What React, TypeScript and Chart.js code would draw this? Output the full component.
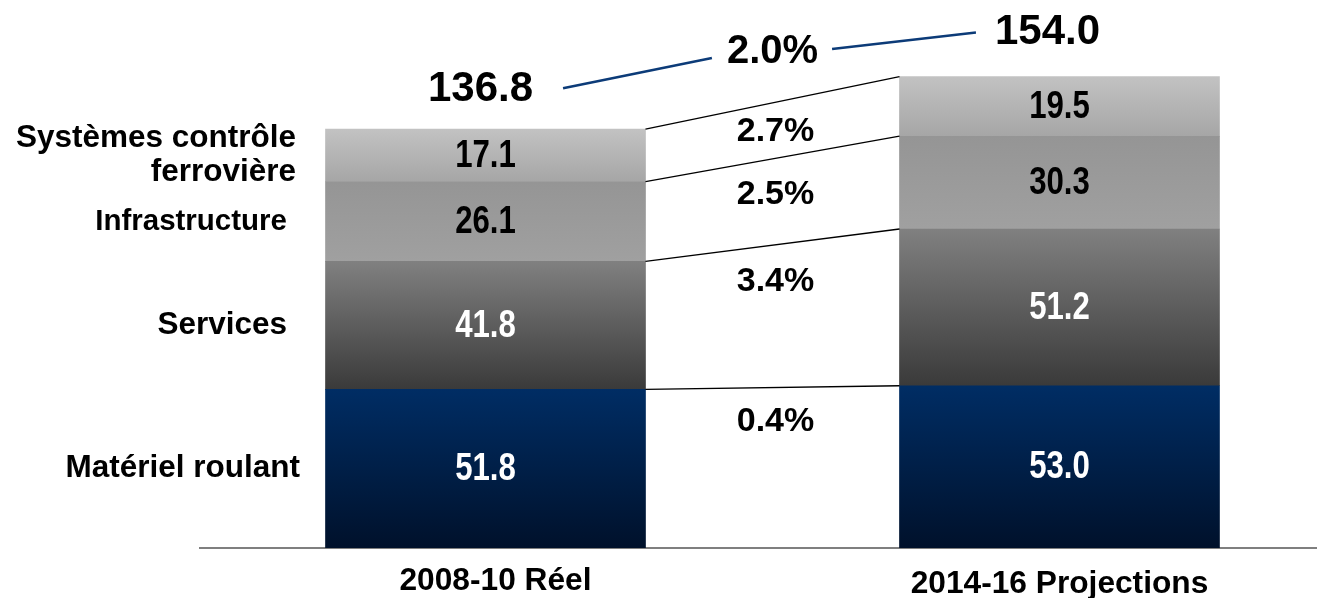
import React, { useEffect, useRef } from "react";
import { Chart, registerables } from "chart.js";

Chart.register(...registerables);

// ---- Data ----
const categories = ["2008-10 Réel", "2014-16 Projections"];
const seriesNames = ["Matériel roulant", "Services", "Infrastructure", "Systèmes contrôle\nferrovière"];
const materielRoulant = [51.8, 53.0];
const services = [41.8, 51.2];
const infrastructure = [26.1, 30.3];
const systemesControle = [17.1, 19.5];
const totals = [136.8, 154.0];
const segmentGrowth = ["0.4%", "3.4%", "2.5%", "2.7%"];
const totalGrowth = "2.0%";

const seriesValues = [materielRoulant, services, infrastructure, systemesControle];

// ---- Styles ----
const gradients: [string, string][] = [
  ["#002d64", "#00112b"],
  ["#808080", "#3a3a3a"],
  ["#959595", "#a0a0a0"],
  ["#c2c2c2", "#a6a6a6"],
];
const valueColors = ["#ffffff", "#ffffff", "#000000", "#000000"];
const FONT = "'Liberation Sans', Arial, Helvetica, sans-serif";

function stackRange(seriesIdx: number, dataIdx: number): [number, number] {
  let start = 0;
  for (let i = 0; i < seriesIdx; i++) start += seriesValues[i][dataIdx];
  return [start, start + seriesValues[seriesIdx][dataIdx]];
}

const labelPlugin = {
  id: "labelPlugin",
  afterDatasetsDraw(chart: any) {
    const ctx: CanvasRenderingContext2D = chart.ctx;
    const metas = seriesValues.map((_, i) => chart.getDatasetMeta(i));
    ctx.save();

    // connector lines between bars (top of each segment)
    ctx.strokeStyle = "#000000";
    ctx.lineWidth = 1.3;
    metas.forEach((meta: any) => {
      const a = meta.data[0];
      const b = meta.data[1];
      ctx.beginPath();
      ctx.moveTo(a.x + a.width / 2, a.y);
      ctx.lineTo(b.x - b.width / 2, b.y);
      ctx.stroke();
    });

    // values inside bars (condensed)
    ctx.textAlign = "center";
    ctx.textBaseline = "middle";
    metas.forEach((meta: any, si: number) => {
      meta.data.forEach((el: any, di: number) => {
        const cy = (el.y + el.base) / 2;
        ctx.save();
        ctx.translate(el.x, cy + 1);
        ctx.scale(0.82, 1);
        ctx.font = `bold 38px ${FONT}`;
        ctx.fillStyle = valueColors[si];
        ctx.fillText(seriesValues[si][di].toFixed(1), 0, 0);
        ctx.restore();
      });
    });

    // series labels on the left, centred on first bar's segments
    ctx.fillStyle = "#000000";
    ctx.textAlign = "right";
    const rightEdges = [300, 287, 287, 296];
    const labelSizes = [31.5, 31.5, 29.5, 31.5];
    metas.forEach((meta: any, si: number) => {
      const el = meta.data[0];
      const cy = (el.y + el.base) / 2;
      const lines = seriesNames[si].split("\n");
      const lh = 34;
      ctx.font = `bold ${labelSizes[si]}px ${FONT}`;
      lines.forEach((ln, li) => {
        ctx.fillText(ln, rightEdges[si], cy + (li - (lines.length - 1) / 2) * lh);
      });
    });

    // segment growth labels between bars
    ctx.textAlign = "center";
    ctx.font = `bold 34px ${FONT}`;
    const growthOffsets = [34, 36, 36, 29];
    metas.forEach((meta: any, si: number) => {
      const a = meta.data[0];
      const b = meta.data[1];
      const x1 = a.x + a.width / 2;
      const x2 = b.x - b.width / 2;
      const midX = (x1 + x2) / 2 + 3;
      const midY = (a.y + b.y) / 2;
      ctx.fillText(segmentGrowth[si], midX, midY + growthOffsets[si]);
    });

    // totals
    const top0 = metas[metas.length - 1].data[0];
    const top1 = metas[metas.length - 1].data[1];
    ctx.font = `bold 42px ${FONT}`;
    const t0x = top0.x - 5;
    const t0y = top0.y - 40;
    const t1x = top1.x - 12;
    const t1y = top1.y - 44;
    ctx.fillText(totals[0].toFixed(1), t0x, t0y);
    ctx.fillText(totals[1].toFixed(1), t1x, t1y);
    const w0 = ctx.measureText(totals[0].toFixed(1)).width;
    const w1 = ctx.measureText(totals[1].toFixed(1)).width;

    // total growth label + blue connector
    const gx = ((top0.x + top0.width / 2) + (top1.x - top1.width / 2)) / 2;
    const gy = 52;
    ctx.font = `bold 40px ${FONT}`;
    ctx.fillText(totalGrowth, gx, gy);
    const gw = ctx.measureText(totalGrowth).width;

    ctx.strokeStyle = "#0c3b78";
    ctx.lineWidth = 2.6;
    ctx.beginPath();
    ctx.moveTo(t0x + w0 / 2 + 30, t0y - 1);
    ctx.lineTo(gx - gw / 2 - 15, gy + 6);
    ctx.stroke();
    ctx.beginPath();
    ctx.moveTo(gx + gw / 2 + 14, gy - 3);
    ctx.lineTo(t1x - w1 / 2 - 19, t1y);
    ctx.stroke();

    // category labels under the axis
    const xScale = chart.scales.x;
    ctx.font = `bold 31.7px ${FONT}`;
    categories.forEach((c, i) => {
      const x = xScale.getPixelForValue(i);
      ctx.fillText(c, x + (i === 0 ? 10 : 0), chart.chartArea.bottom + (i === 0 ? 33 : 36));
    });

    ctx.restore();
  },
};

export default function App() {
  const canvasRef = useRef<HTMLCanvasElement | null>(null);

  useEffect(() => {
    if (!canvasRef.current) return;
    const datasets = seriesValues.map((vals, si) => ({
      label: seriesNames[si].replace("\n", " "),
      data: vals.map((v, i) => ({ x: i, y: v })),
      barThickness: 320,
      borderWidth: 0,
      backgroundColor: (c: any) => {
        const chart = c.chart;
        const ys = chart.scales && chart.scales.y;
        if (!ys || c.dataIndex === undefined) return gradients[si][0];
        const [s, e] = stackRange(si, c.dataIndex);
        const yTop = ys.getPixelForValue(e);
        const yBot = ys.getPixelForValue(s);
        if (!isFinite(yTop) || !isFinite(yBot) || yTop === yBot) return gradients[si][0];
        const g = chart.ctx.createLinearGradient(0, yTop, 0, yBot);
        g.addColorStop(0, gradients[si][0]);
        g.addColorStop(1, gradients[si][1]);
        return g;
      },
    }));

    const chart = new Chart(canvasRef.current, {
      type: "bar",
      data: { datasets },
      options: {
        animation: false,
        responsive: true,
        maintainAspectRatio: false,
        layout: { padding: { left: 200, right: 12, top: 0, bottom: 50 } },
        plugins: { legend: { display: false }, tooltip: { enabled: false } },
        scales: {
          x: {
            type: "linear",
            stacked: true,
            offset: false,
            min: -0.4974,
            max: 1.4469,
            grid: { display: false, drawTicks: false, tickLength: 0 },
            border: { display: true, color: "#7f7f7f", width: 2 },
            ticks: { display: false },
          },
          y: {
            stacked: true,
            min: 0,
            max: 179,
            display: false,
          },
        },
      },
      plugins: [labelPlugin],
    });
    return () => chart.destroy();
  }, []);

  return (
    <div style={{ position: "fixed", left: 0, top: 0, width: 1328, height: 598, background: "#ffffff" }}>
      <canvas ref={canvasRef} />
    </div>
  );
}
